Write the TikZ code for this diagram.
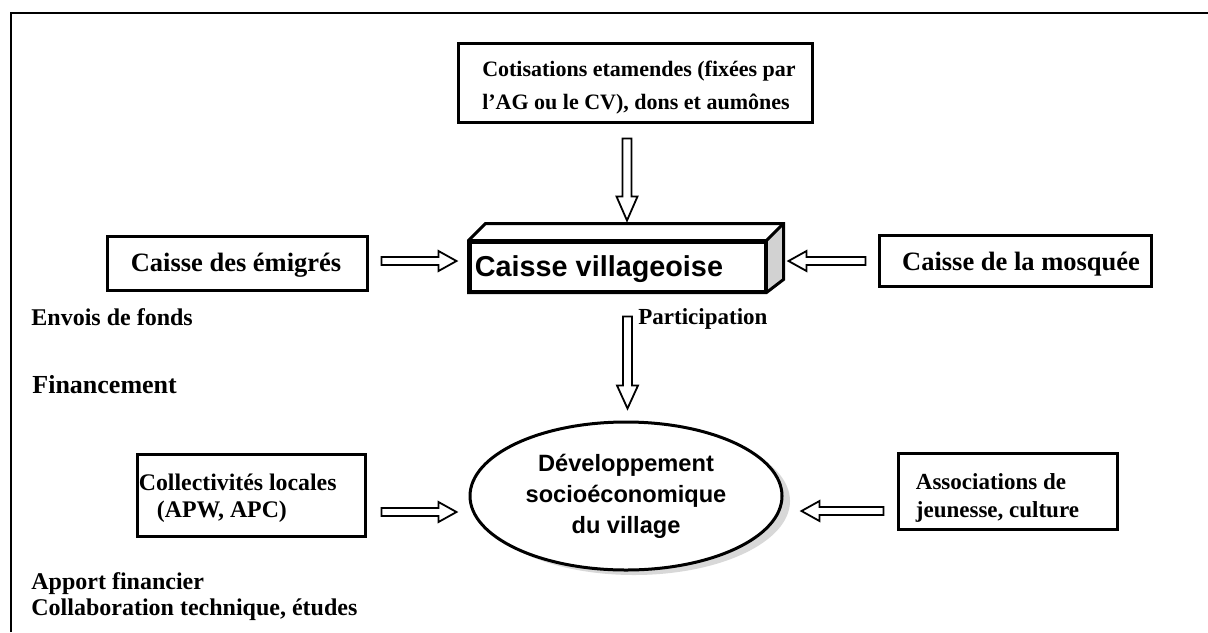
\documentclass[tikz,border=0pt]{standalone}
\usepackage{fontspec}
\setmainfont{Liberation Serif}
\newfontfamily\arialf{Liberation Sans}
\usetikzlibrary{calc,shapes.geometric,shadows}
\tikzset{
 box/.style={draw, line width=1.5pt, inner sep=0pt, fill=white},
 txt/.style={inner sep=0pt, align=left},
 harr/.style={draw, line width=0.9pt, fill=white, line join=miter},
 lbl/.style={anchor=west, inner sep=0pt},
}
\newcommand\harrow[5]{%
 \coordinate (hS) at #1; \coordinate (hE) at #2;
 \coordinate (hC) at ($(hE)!#5!(hS)$);
 \draw[harr] ($(hS)!#3!90:(hE)$) -- ($(hC)!#3!90:(hE)$) -- ($(hC)!#4!90:(hE)$) -- (hE) -- ($(hC)!#4!-90:(hE)$) -- ($(hC)!#3!-90:(hE)$) -- ($(hS)!#3!-90:(hE)$) -- cycle;}
\begin{document}
\begin{tikzpicture}[x=0.5pt,y=-0.5pt]
\useasboundingbox (0,0) rectangle (1208,632);
\fill[white] (0,0) rectangle (1208,632);
% frame
\draw[line width=1pt] (11,632) -- (11,13) -- (1208,13);

% top box
\node[box, minimum width=177pt, minimum height=39.5pt] (top) at (635,82.5) {};
\node[txt, font=\bfseries\fontsize{11}{16.5}\selectfont] (toptext) at ($(top.center)+(4,5)$)
 {Cotisations etamendes (fixées par\\l’AG ou le CV), dons et aumônes};

% caisse villageoise (3D box)
\node[box, minimum width=147.5pt, minimum height=24.5pt] (cv) at (617.5,266.5) {};
\coordinate (btl) at ($(cv.north west)+(17,-17)$);
\coordinate (btr) at ($(cv.north east)+(17,-17)$);
\coordinate (bbr) at ($(cv.south east)+(17,-13)$);
\fill[gray!35] (cv.north east) -- (btr) -- (bbr) -- (cv.south east) -- cycle;
\draw[line width=1.5pt, line join=miter] (cv.south west) -- (cv.north west) -- (btl) -- (btr)
 -- (bbr) -- (cv.south east) -- cycle;
\draw[line width=1.5pt, line join=miter] (cv.north west) -- (cv.north east) -- (btr);
\draw[line width=1.5pt] (cv.north east) -- (cv.south east);
\node[txt, anchor=west, font=\arialf\bfseries\fontsize{14.4}{16}\selectfont] (cvtext)
 at ($(cv.west)+(6,3)$) {Caisse villageoise};

% side boxes
\node[box, minimum width=130pt, minimum height=27pt] (emig) at (237,263) {};
\node[txt, font=\bfseries\fontsize{13.25}{16}\selectfont] (emigtext) at ($(emig.center)+(-1,2)$) {Caisse des émigrés};
\node[box, minimum width=136pt, minimum height=25.5pt] (mosq) at (1015,260.5) {};
\node[txt, font=\bfseries\fontsize{13.25}{16}\selectfont] (mosqtext) at ($(mosq.center)+(6,4)$) {Caisse de la mosquée};
\node[box, minimum width=114pt, minimum height=41pt] (coll) at (251,495) {};
\node[txt, anchor=west, font=\bfseries\fontsize{11.9}{13.5}\selectfont] (colltext) at ($(coll.west)+(3,3)$)
 {Collectivités locales\\\hspace*{9pt}(APW, APC)};
\node[box, minimum width=109.5pt, minimum height=38pt] (assoc) at (1007.5,491) {};
\node[txt, anchor=west, font=\bfseries\fontsize{11.5}{14}\selectfont] (assoctext) at ($(assoc.west)+(19,7)$)
 {Associations de\\jeunesse, culture};

% ellipse
\node[ellipse, draw, line width=1.5pt, fill=white, minimum width=156pt, minimum height=74pt,
 inner sep=0pt, drop shadow={shadow xshift=4pt, shadow yshift=-2.5pt, fill=gray!60},
 align=center, font=\arialf\bfseries\fontsize{11.8}{15.5}\selectfont] (dev) at (626,496)
 {Développement\\socioéconomique\\du village};

% hollow arrows
\harrow{($(top.south)+(-8,15)$)}{($(cv.north)+(9.5,-20)$)}{2.25pt}{5.25pt}{12pt}
\harrow{($(cv.south)+(10,24)$)}{($(dev.north)+(1.5,-12)$)}{2.25pt}{5.25pt}{11.5pt}
\harrow{($(emig.east)+(13,-2)$)}{($(cv.west)+(-12,-5.5)$)}{2pt}{5pt}{9pt}
\harrow{($(mosq.west)+(-12,0.5)$)}{($(cv.east)+(22,-5.5)$)}{2pt}{5pt}{9pt}
\harrow{($(coll.east)+(15,17)$)}{($(dev.west)+(-12,16)$)}{2pt}{5pt}{9pt}
\harrow{($(assoc.west)+(-13,20)$)}{($(dev.east)+(18,15)$)}{2pt}{5pt}{9pt}

% labels
\node[lbl, font=\bfseries\fontsize{12}{14}\selectfont] (envois) at (31,317) {Envois de fonds};
\node[lbl, font=\bfseries\fontsize{13}{15}\selectfont] (fin) at (32,385) {Financement};
\node[lbl, font=\bfseries\fontsize{11.5}{14}\selectfont] (part) at (638,319) {Participation};
\node[lbl, font=\bfseries\fontsize{12}{14}\selectfont] (apport) at (31,584) {Apport financier};
\node[lbl, font=\bfseries\fontsize{12}{14}\selectfont] (collab) at (31,610) {Collaboration technique, études};
\end{tikzpicture}
\end{document}
